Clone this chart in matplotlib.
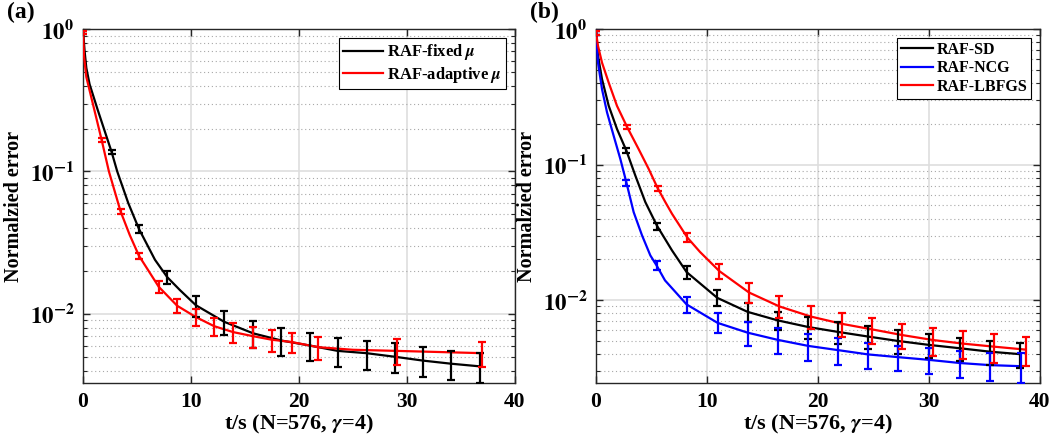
import numpy as np
import matplotlib
matplotlib.use("Agg")
import matplotlib.pyplot as plt
from matplotlib.ticker import LogLocator, NullFormatter, FixedLocator

plt.rcParams['font.family'] = ['Liberation Serif', 'DejaVu Serif']
plt.rcParams['font.weight'] = 'bold'
plt.rcParams['mathtext.fontset'] = 'stix'

# ---- panel (a): fixed vs adaptive step ----
a_fixed_t = [0.05, 0.18, 0.34, 0.64, 1.39, 2.68, 3.2, 4.22, 5.21, 6.69, 7.83, 9.0, 10.48,
             13.1, 15.79, 18.4, 21.0, 23.6, 26.27, 28.9, 31.5, 34.1, 36.8]
a_fixed_e = [0.947, 0.70, 0.533, 0.41, 0.271, 0.137, 0.1, 0.060, 0.0395, 0.024,
             0.0181, 0.0147, 0.0115, 0.0088, 0.0073, 0.0065, 0.0060, 0.0055, 0.0053, 0.0050, 0.0047,
             0.00447, 0.00428]
a_fixed_bar_t = [0.05, 2.68, 5.21, 7.83, 10.48, 13.1, 15.79, 18.4, 21.0, 23.6, 26.27, 28.9, 31.5, 34.1, 36.8]
a_fixed_lo = [0.92, 0.132, 0.0369, 0.0162, 0.00957, 0.00712, 0.0058, 0.00507, 0.00468, 0.00426,
              0.00404, 0.00383, 0.00359, 0.00344, 0.00326]
a_fixed_hi = [0.975, 0.142, 0.0422, 0.0201, 0.01345, 0.0105, 0.00893, 0.00793, 0.00731, 0.0068,
              0.00649, 0.00622, 0.00583, 0.0055, 0.0053]

a_adapt_t = [0.05, 0.12, 0.34, 1.08, 1.76, 2.43, 3.51, 4.35, 5.21, 7.04, 8.75,
             10.48, 12.17, 13.93, 15.79, 17.54, 19.33, 21.8, 25.0, 29.05, 33.0, 37.0]
a_adapt_e = [0.947, 0.65, 0.46, 0.271, 0.166, 0.1, 0.0524, 0.0359, 0.0256,
             0.0155, 0.0114, 0.0095, 0.0082, 0.00745, 0.00697, 0.00658, 0.00635, 0.00584, 0.0056,
             0.0055, 0.0054, 0.0053]
a_adapt_bar_t = [0.05, 1.76, 3.51, 5.21, 7.04, 8.75, 10.48, 12.17, 13.93, 15.79, 17.54, 19.33, 21.8, 29.05, 37.0]
a_adapt_lo = [0.92, 0.160, 0.0502, 0.0242, 0.0141, 0.0102, 0.00824, 0.0070, 0.00622, 0.0058,
              0.00543, 0.0053, 0.00475, 0.00438, 0.00422]
a_adapt_hi = [0.975, 0.172, 0.0547, 0.0267, 0.0169, 0.01268, 0.0108, 0.00942, 0.00868, 0.00814,
              0.00772, 0.0074, 0.00693, 0.00664, 0.00638]

# ---- panel (b): SD / NCG / LBFGS ----
b_sd_t = [0.03, 0.21, 0.57, 1.17, 1.92, 2.76, 3.57, 4.47, 5.52, 6.87, 8.19, 10.95, 13.68, 16.38,
          19.14, 21.84, 24.54, 27.24, 30.0, 32.79, 35.49, 38.19]
b_sd_e = [0.945, 0.633, 0.427, 0.272, 0.183, 0.127, 0.083, 0.0529, 0.0354, 0.0233, 0.0161, 0.0104,
          0.0082, 0.0071, 0.00634, 0.00583, 0.00539, 0.005, 0.00468, 0.00442, 0.00417, 0.004]
b_sd_bar_t = [0.03, 2.76, 5.52, 8.19, 10.95, 13.68, 16.38, 19.14, 21.84, 24.54, 27.24, 30.0, 32.79, 35.49, 38.19]
b_sd_lo = [0.91, 0.122, 0.0331, 0.0144, 0.00903, 0.00693, 0.00601, 0.00514, 0.00472, 0.00434,
           0.00401, 0.00373, 0.00356, 0.00333, 0.00318]
b_sd_hi = [0.97, 0.132, 0.0373, 0.0178, 0.01185, 0.00946, 0.0082, 0.00753, 0.00693, 0.00644,
           0.00601, 0.00562, 0.00528, 0.005, 0.00481]

b_ncg_t = [0.03, 0.21, 0.57, 1.02, 1.62, 2.22, 2.76, 3.42, 4.17, 4.92, 5.49, 6.24, 8.19, 10.98,
           13.68, 16.38, 19.14, 21.84, 24.54, 27.24, 30.0, 32.79, 35.49, 38.25]
b_ncg_e = [0.945, 0.565, 0.36, 0.243, 0.163, 0.110, 0.0741, 0.0446, 0.0301, 0.0214, 0.018, 0.014,
           0.0093, 0.0068, 0.00576, 0.0051, 0.0046, 0.00428, 0.00398, 0.0038, 0.00363, 0.00344,
           0.00332, 0.00326]
b_ncg_bar_t = [0.03, 2.76, 5.49, 8.19, 10.98, 13.68, 16.38, 19.14, 21.84, 24.54, 27.24, 30.0, 32.79, 35.49, 38.25]
b_ncg_lo = [0.91, 0.0701, 0.0166, 0.00807, 0.00569, 0.00459, 0.00401, 0.00358, 0.00333, 0.00311,
            0.00301, 0.00284, 0.00266, 0.00255, 0.00247]
b_ncg_hi = [0.97, 0.0771, 0.0195, 0.01057, 0.00798, 0.00693, 0.0062, 0.0056, 0.00523, 0.00485,
            0.00459, 0.00442, 0.00422, 0.00409, 0.00405]

b_lbfgs_t = [0.03, 0.21, 0.57, 1.17, 1.92, 2.82, 3.87, 4.77, 5.58, 6.27, 6.87, 8.25, 9.39, 11.13,
             13.8, 16.53, 19.38, 22.14, 24.84, 27.6, 30.39, 33.09, 35.88, 38.7]
b_lbfgs_e = [0.945, 0.75, 0.565, 0.403, 0.271, 0.19, 0.130, 0.093, 0.067, 0.0529, 0.0434, 0.029,
             0.0227, 0.0164, 0.0114, 0.009, 0.00757, 0.0067, 0.0061, 0.00553, 0.00508, 0.00478,
             0.00454, 0.00432]
b_lbfgs_bar_t = [0.03, 2.82, 5.58, 8.25, 11.13, 13.8, 16.53, 19.38, 22.14, 24.84, 27.6, 30.39, 33.09, 35.88, 38.7]
b_lbfgs_lo = [0.91, 0.183, 0.0637, 0.0268, 0.0144, 0.00955, 0.00733, 0.00612, 0.00532, 0.00474,
              0.00434, 0.0039, 0.00366, 0.00346, 0.00327]
b_lbfgs_hi = [0.97, 0.197, 0.0701, 0.0313, 0.0184, 0.0133, 0.0107, 0.00903, 0.00807, 0.00741,
              0.00673, 0.00626, 0.00591, 0.00562, 0.00537]

XLABEL = r't/s (N=576, $\gamma$=4)'
YLABEL = 'Normalzied error'
YTICKS = [1e-2, 1e-1, 1]
YTICKLABELS = [r'$\mathbf{10^{-2}}$', r'$\mathbf{10^{-1}}$', r'$\mathbf{10^{0}}$']


def draw_series(ax, t, e, bar_t, lo, hi, color, label):
    ax.plot(t, e, color=color, lw=1.6, label=label, zorder=3)
    lo = np.array(lo)
    hi = np.array(hi)
    mid = (lo + hi) / 2
    ax.errorbar(bar_t, mid, yerr=[mid - lo, hi - mid], fmt='none', ecolor=color,
                elinewidth=1.6, capsize=3.2, capthick=1.6, zorder=4)


def style_axes(ax, ymin):
    ax.set_yscale('log')
    ax.set_xlim(0, 40)
    ax.set_ylim(ymin, 1)
    ax.set_xticks([0, 10, 20, 30, 40])
    ax.yaxis.set_major_locator(FixedLocator(YTICKS))
    ax.set_yticklabels(YTICKLABELS)
    ax.yaxis.set_minor_locator(LogLocator(base=10, subs=np.arange(2, 10), numticks=20))
    ax.yaxis.set_minor_formatter(NullFormatter())
    ax.grid(True, which='major', color='#dedede', lw=1.2, ls='-', zorder=0)
    ax.grid(True, which='minor', axis='y', color='#a8a8a8', lw=0.8, ls=(0, (1, 2.5)), zorder=0)
    ax.set_axisbelow(True)
    ax.tick_params(which='both', direction='in', top=True, right=True, colors='#262626',
                   labelcolor='black')
    ax.tick_params(which='major', length=5, width=1, pad=6)
    ax.tick_params(which='minor', length=3, width=0.8)
    ax.tick_params(axis='x', labelsize=15.5)
    ax.tick_params(axis='y', labelsize=16.5)
    for sp in ax.spines.values():
        sp.set_color('#262626')
        sp.set_linewidth(1.0)
    ax.set_xlabel(XLABEL, fontsize=16, fontweight='bold', labelpad=1)
    ax.set_ylabel(YLABEL, fontsize=14.5, fontweight='bold', labelpad=4)


fig = plt.figure(figsize=(10.53, 4.40), dpi=100)
ax_a = fig.add_axes([0.0785, 0.129, 0.4105, 0.805])
ax_b = fig.add_axes([0.5657, 0.129, 0.4219, 0.805])

draw_series(ax_a, a_fixed_t, a_fixed_e, a_fixed_bar_t, a_fixed_lo, a_fixed_hi, 'black', r'RAF-fixed $\mu$')
draw_series(ax_a, a_adapt_t, a_adapt_e, a_adapt_bar_t, a_adapt_lo, a_adapt_hi, 'red', r'RAF-adaptive $\mu$')
style_axes(ax_a, 0.00326)

draw_series(ax_b, b_sd_t, b_sd_e, b_sd_bar_t, b_sd_lo, b_sd_hi, 'black', 'RAF-SD')
draw_series(ax_b, b_ncg_t, b_ncg_e, b_ncg_bar_t, b_ncg_lo, b_ncg_hi, 'blue', 'RAF-NCG')
draw_series(ax_b, b_lbfgs_t, b_lbfgs_e, b_lbfgs_bar_t, b_lbfgs_lo, b_lbfgs_hi, 'red', 'RAF-LBFGS')
style_axes(ax_b, 0.00244)

for ax, fs, hl in ((ax_a, 12, 2.4), (ax_b, 11.5, 2.0)):
    leg = ax.legend(loc='upper right', fontsize=fs, frameon=True, fancybox=False, framealpha=1,
                    edgecolor='black', borderpad=0.25, handlelength=hl, handletextpad=0.2,
                    labelspacing=0.15, borderaxespad=0.55)
    leg.get_frame().set_linewidth(0.8)

fig.text(0.007, 0.995, '(a)', fontsize=17, fontweight='bold', va='top', ha='left')
fig.text(0.503, 0.995, '(b)', fontsize=17, fontweight='bold', va='top', ha='left')

fig.savefig('out.png', dpi=100)
